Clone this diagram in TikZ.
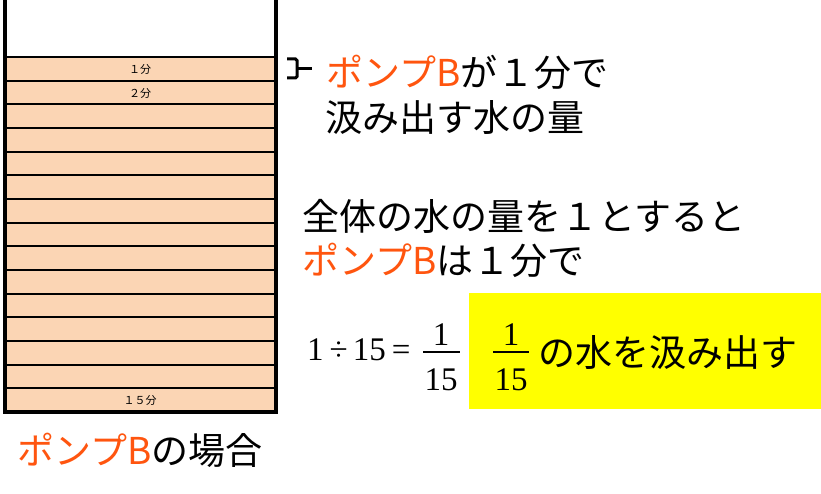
\documentclass[tikz,border=0pt]{standalone}
\usepackage{fontspec}
\newfontfamily\jp{Noto Sans CJK JP}
\newfontfamily\tms{Liberation Serif}
\definecolor{water}{RGB}{251,213,180}
\definecolor{pumpB}{RGB}{255,85,15}
\definecolor{hilite}{RGB}{255,255,0}

\begin{document}
\begin{tikzpicture}[x=1pt,y=-1pt,
	big/.style = {font=\jp\fontsize{37}{42}\selectfont, inner sep=0pt, anchor=west},
	small/.style = {font=\jp\fontsize{11}{12}\selectfont, inner sep=0pt},
	num/.style = {font=\tms\fontsize{33}{36}\selectfont, inner sep=0pt, anchor=base}]
	\useasboundingbox (0,0) rectangle (821,494);
	% layers of water, one per minute
	\foreach \k [evaluate=\k as \ytop using 57+23.67*\k] in {0,...,14}
		\draw [fill=water, line width=2pt] (5,\ytop) rectangle (276,\ytop+23.67);
	\draw [line width=4pt] (5,0) -- (5,412) -- (276,412) -- (276,0);
	\node [small] (min1) at (140,69) {１分};
	\node [small] (min2) at (140,93) {２分};
	\node [small] (min15) at (140,400) {１５分};
	% bracket on the first layer
	\coordinate (brTop) at (287,59);
	\coordinate (brBot) at (287,78);
	\coordinate (brMid) at (297,68.5);
	\coordinate (brTip) at (312,68.5);
	\draw [line width=3pt, rounded corners=1.5pt] (brTop) -- ++(10,0) |- (brBot);
	\draw [line width=2.5pt] (brMid) -- (brTip);
	\node [big] (perMin) at (326,72) {\textcolor{pumpB}{ポンプB}が１分で};
	\node [big] (perMin2) at (325,117) {汲み出す水の量};
	\node [big] (whole) at (302,216) {全体の水の量を１とすると};
	\node [big] (pumpRate) at (302,260) {\textcolor{pumpB}{ポンプB}は１分で};
	% answer
	\node [fill=hilite, inner sep=0pt, minimum width=352pt, minimum height=116pt, anchor=north west] (box) at (469,293) {};
	\node [num, anchor=base west] (calc) at (307,360) {1\kern6pt÷\kern5pt15\kern6pt=};
	\node [num] (calcNum) at (441,345) {1};
	\node [num] (calcDen) at (441,390) {15};
	\coordinate (calcBarL) at (423,352);
	\coordinate (calcBarR) at (460,352);
	\draw [line width=1.6pt] (calcBarL) -- (calcBarR);
	\node [num] (fracNum) at (511,345) {1};
	\node [num] (fracDen) at (511,390) {15};
	\coordinate (fracBarL) at (493,352);
	\coordinate (fracBarR) at (529,352);
	\draw [line width=1.6pt] (fracBarL) -- (fracBarR);
	\node [big] (pumpOut) at (538,352) {の水を汲み出す};
	\node [big] (title) at (17,450) {\textcolor{pumpB}{ポンプB}の場合};
\end{tikzpicture}
\end{document}
